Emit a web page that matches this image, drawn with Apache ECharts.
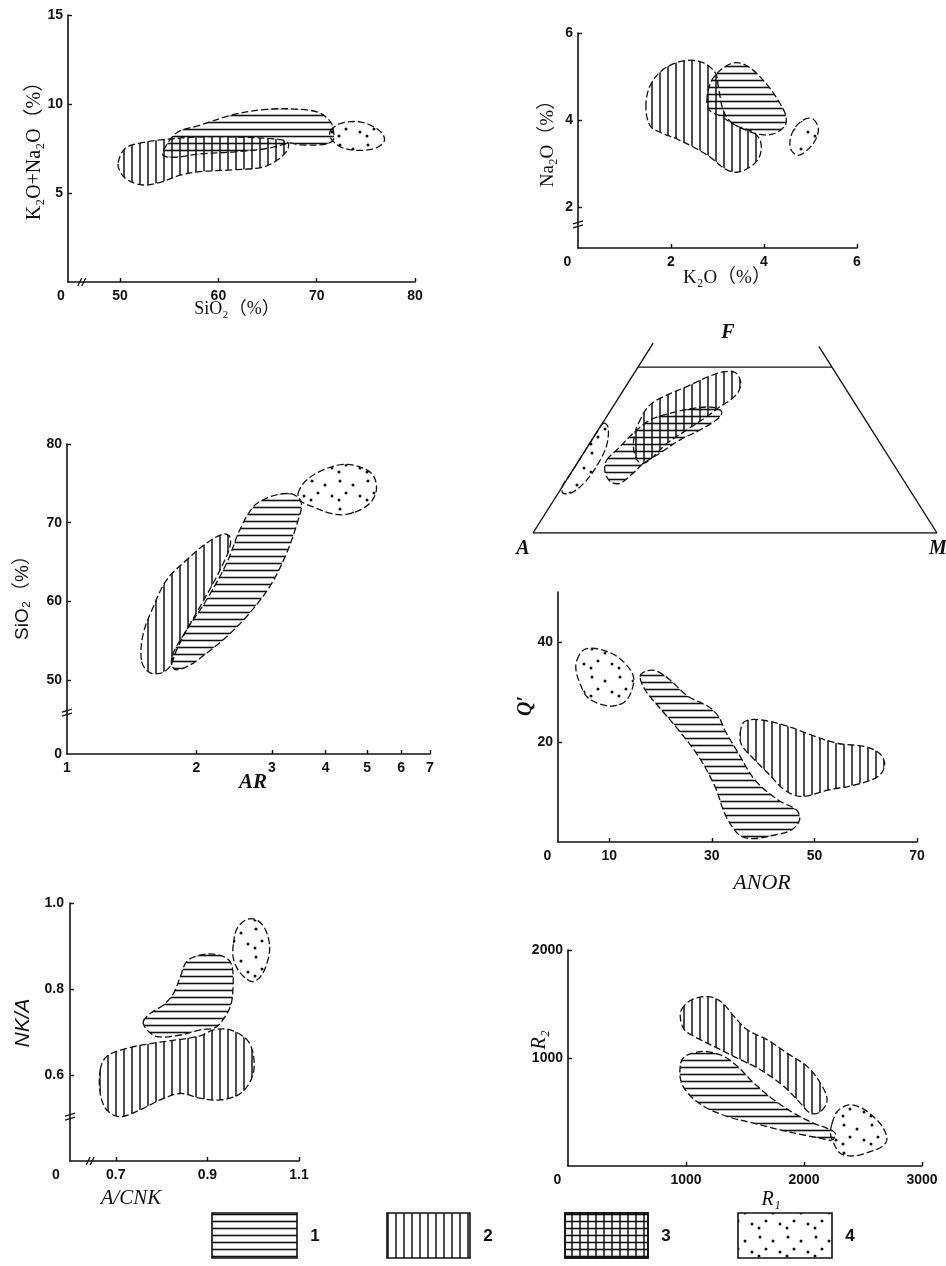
<!DOCTYPE html>
<html><head><meta charset="utf-8">
<script src="https://cdn.jsdelivr.net/npm/echarts@6/dist/echarts.min.js"></script>
<style>html,body{margin:0;padding:0;background:#fff}#c{width:946px;height:1266px}</style>
</head><body><div id="c"></div>
<script>
// ---------------- DATA ----------------
// Panel 1: SiO2 (%) vs K2O+Na2O (%)
const p1Field1 = [[54.4,7.4],[55.8,8.4],[58.1,8.8],[61.5,9.4],[64.9,9.7],[68.3,9.7],[70.3,9.5],[71.4,9.0],[71.7,8.5],[71.7,8.0],[71.0,7.75],[68.3,7.7],[67.3,7.8],[64.9,7.5],[61.5,7.3],[58.1,7.2],[55.4,7.0],[54.4,7.1]];
const p1Field2 = [[49.8,6.7],[50.5,7.5],[52.0,7.8],[54.4,8.0],[58.1,8.15],[61.5,8.15],[66.3,8.0],[67.1,7.8],[67.0,7.4],[66.0,6.85],[64.5,6.45],[61.5,6.3],[58.1,6.2],[56.1,6.0],[54.1,5.6],[52.3,5.45],[50.7,5.75],[50.0,6.2]];
const p1Field4 = [[71.4,8.5],[72.4,8.9],[74.4,9.0],[76.4,8.5],[76.9,7.95],[75.9,7.5],[73.9,7.4],[72.4,7.6],[71.4,8.1]];
const p1XTicks = [50,60,70,80];
const p1YTicks = [5,10,15];

// Panel 2: K2O (%) vs Na2O (%)
const p2Field1 = [[2.77,4.44],[2.87,4.90],[3.13,5.20],[3.41,5.32],[3.70,5.20],[4.06,4.82],[4.31,4.44],[4.47,4.10],[4.45,3.87],[4.20,3.68],[3.91,3.67],[3.63,3.76],[3.34,3.91],[3.05,4.10],[2.84,4.21]];
const p2Field2 = [[1.46,4.29],[1.55,4.79],[1.84,5.17],[2.27,5.36],[2.66,5.33],[2.95,5.09],[3.02,4.75],[3.13,4.21],[3.34,3.91],[3.77,3.72],[3.93,3.49],[3.90,3.15],[3.70,2.92],[3.41,2.80],[3.16,2.88],[2.84,3.15],[2.48,3.38],[2.12,3.57],[1.76,3.72],[1.55,3.87]];
const p2Field4 = [[5.06,4.02],[5.17,3.80],[5.10,3.53],[4.92,3.30],[4.74,3.19],[4.59,3.30],[4.56,3.53],[4.67,3.83],[4.88,4.02]];
const p2XTicks = [2,4,6];
const p2YTicks = [2,4,6];

// Panel 3: AR (log) vs SiO2 (%)
const p3Field1 = [[1.752,51.9],[1.767,53.4],[1.898,56.35],[2.113,60.2],[2.351,64.8],[2.526,69.1],[2.713,72.0],[2.913,73.1],[3.185,73.7],[3.39,73.5],[3.513,72.45],[3.451,70.3],[3.243,66.1],[2.966,61.9],[2.617,58.05],[2.351,55.5],[2.113,53.4],[1.932,51.9],[1.799,51.3]];
const p3Field2 = [[1.49,52.55],[1.505,55.9],[1.588,59.3],[1.705,62.7],[1.898,65.25],[2.113,67.4],[2.31,68.55],[2.394,68.2],[2.394,66.9],[2.31,64.8],[2.189,62.3],[2.039,59.3],[1.898,56.35],[1.799,53.8],[1.736,51.7],[1.645,50.85],[1.546,51.05]];
const p3Field4 = [[3.451,73.7],[3.609,75.4],[3.946,76.7],[4.392,77.4],[4.802,77.1],[5.158,76.05],[5.251,74.15],[5.067,72.45],[4.717,71.4],[4.392,71.0],[4.09,71.2],[3.74,72.0],[3.513,72.7]];
const p3XTicks = [1,2,3,4,5,6,7];
const p3YTicks = [50,60,70,80];

// Panel 4: AFM ternary, points as [A, F, M] (%)
const p4Field1 = [[70.3,22.9,6.8],[66.3,26.0,7.7],[59.5,31.3,9.2],[53.3,35.4,11.3],[47.4,37.5,15.1],[40.7,39.1,20.2],[35.7,39.4,24.9],[34.3,38.0,27.7],[36.1,36.0,27.9],[42.5,32.3,25.2],[49.0,29.2,21.8],[56.1,25.0,18.9],[61.8,21.8,16.4],[65.9,18.7,15.4],[70.7,15.6,13.7],[72.8,16.1,11.1],[72.6,19.2,8.2]];
const p4Field2 = [[56.7,34.4,8.9],[51.7,39.6,8.7],[47.5,42.2,10.3],[39.0,45.9,15.1],[31.6,49.2,19.2],[27.2,50.6,22.2],[24.8,50.3,24.9],[24.9,47.4,27.7],[27.0,44.3,28.7],[30.3,41.7,28.0],[33.9,39.6,26.5],[38.7,36.5,24.8],[45.8,32.3,21.9],[52.8,28.1,19.1],[58.3,23.9,17.8],[61.8,21.8,16.4],[62.8,22.9,14.3],[61.6,27.1,11.3],[59.1,31.3,9.6]];
const p4Field4 = [[65.4,34.4,0.2],[64.8,33.3,1.9],[67.6,28.1,4.3],[71.9,22.9,5.2],[78.4,16.6,5.0],[83.6,12.9,3.5],[86.3,12.4,1.3],[85.5,14.5,0],[81.3,18.7,0],[75.0,25.0,0],[68.7,31.3,0]];
const p4FrameBase = [[100,0,0],[0,0,100]];
const p4FrameLeft = [[100,0,0],[40.5,59.5,0]];
const p4FrameRight = [[0,0,100],[0,58.5,41.5]];
const p4FrameTop = [[48,52,0],[0,52,48]];

// Panel 5: ANOR vs Q'
const p5Field1 = [[16.0,33.1],[17.0,34.1],[18.9,34.3],[21.5,32.7],[25.4,29.1],[29.3,27.1],[31.3,25.1],[32.5,22.4],[35.2,17.7],[38.4,12.4],[42.9,8.4],[46.5,6.4],[47.1,4.4],[45.5,2.4],[42.3,1.4],[38.4,0.7],[35.8,1.1],[34.2,2.7],[32.5,5.7],[30.6,11.1],[27.4,17.1],[23.5,22.4],[19.6,27.1],[17.0,30.4]];
const p5Field2 = [[35.5,21.7],[36.4,24.1],[39.7,24.4],[44.9,23.1],[49.4,21.4],[54.6,19.7],[59.8,19.1],[62.7,17.7],[63.7,15.4],[62.4,13.1],[57.8,11.4],[52.7,10.4],[47.5,9.1],[44.2,10.4],[41.0,13.7],[37.7,17.1],[35.8,19.4]];
const p5Field4 = [[3.7,36.4],[5.0,38.4],[7.3,38.7],[10.5,37.7],[13.1,35.7],[14.7,33.1],[14.4,30.4],[13.1,28.1],[10.8,27.2],[7.9,27.7],[5.6,29.1],[4.3,31.7],[3.5,34.4]];
const p5XTicks = [10,30,50,70];
const p5YTicks = [20,40];

// Panel 6: A/CNK vs NK/A
const p6Field1 = [[0.760,0.724],[0.775,0.743],[0.804,0.763],[0.826,0.790],[0.841,0.829],[0.855,0.864],[0.884,0.879],[0.914,0.881],[0.943,0.871],[0.954,0.852],[0.956,0.805],[0.950,0.759],[0.928,0.720],[0.914,0.709],[0.884,0.705],[0.841,0.693],[0.790,0.689],[0.768,0.705]];
const p6Field2 = [[0.666,0.612],[0.680,0.643],[0.724,0.662],[0.782,0.674],[0.841,0.683],[0.884,0.691],[0.914,0.705],[0.950,0.705],[0.987,0.681],[1.001,0.643],[0.998,0.596],[0.972,0.557],[0.928,0.542],[0.884,0.546],[0.841,0.557],[0.797,0.542],[0.753,0.519],[0.709,0.503],[0.680,0.519],[0.666,0.557]];
const p6Field4 = [[0.957,0.906],[0.965,0.941],[0.987,0.962],[1.009,0.960],[1.027,0.937],[1.036,0.898],[1.030,0.860],[1.016,0.829],[0.998,0.817],[0.979,0.829],[0.965,0.848],[0.956,0.875]];
const p6XTicks = [0.7,0.9,1.1];
const p6YTicks = [0.6,0.8,1.0];

// Panel 7: R1 vs R2
const p7Field1 = [[955,951],[988,1012],[1073,1049],[1185,1059],[1325,1012],[1438,920],[1578,765],[1746,611],[1915,488],[2083,395],[2196,349],[2266,302],[2238,241],[2140,256],[1999,287],[1803,333],[1578,395],[1354,457],[1157,549],[1017,673],[955,796]];
const p7Field2 = [[960,1444],[1045,1537],[1185,1568],[1297,1521],[1409,1383],[1522,1259],[1691,1167],[1859,1043],[2028,920],[2140,765],[2196,611],[2140,503],[2056,488],[1971,580],[1831,735],[1634,889],[1409,1012],[1241,1105],[1073,1197],[988,1259],[955,1352]];
const p7Field4 = [[2238,395],[2281,503],[2378,565],[2477,543],[2589,457],[2673,349],[2702,241],[2660,179],[2561,133],[2420,93],[2308,117],[2252,210],[2224,302]];
const p7XTicks = [1000,2000,3000];
const p7YTicks = [1000,2000];

const legendLabels = ['1','2','3','4'];

// ---------------- PATTERNS ----------------
function mkCanvas(w, h, draw) { const c = document.createElement('canvas'); c.width = w; c.height = h; const ctx = c.getContext('2d'); draw(ctx); return c; }
const HATCH_H = { image: mkCanvas(12, 7, ctx => { ctx.strokeStyle = '#111'; ctx.lineWidth = 1.6; ctx.beginPath(); ctx.moveTo(0, 3.5); ctx.lineTo(12, 3.5); ctx.stroke(); }), repeat: 'repeat' };
const HATCH_V = { image: mkCanvas(8, 12, ctx => { ctx.strokeStyle = '#111'; ctx.lineWidth = 1.5; ctx.beginPath(); ctx.moveTo(4, 0); ctx.lineTo(4, 12); ctx.stroke(); }), repeat: 'repeat' };
const DOTS = { image: mkCanvas(28, 28, ctx => { ctx.fillStyle = '#111'; [[4,5],[17,9],[10,17],[24,20],[3,24]].forEach(([x,y]) => { ctx.beginPath(); ctx.arc(x, y, 1.5, 0, Math.PI*2); ctx.fill(); }); }), repeat: 'repeat' };

// ---------------- HELPERS ----------------
const TICKFONT = "'Liberation Sans Narrow','Liberation Sans',Arial,sans-serif";
const SERIF = "'Liberation Serif','DejaVu Serif','Noto Sans CJK SC',serif";
const tern2xy = p => { const s = p[0] + p[1] + p[2]; const F = p[1] / s * 100, M = p[2] / s * 100; return [M + F / 2, F]; };

function field(g, pts, pattern, conv) {
  return {
    type: 'custom', xAxisIndex: g, yAxisIndex: g, data: pts, silent: true, animation: false, clip: false,
    renderItem: (params, api) => {
      if (params.dataIndex !== 0) return null;
      const points = pts.map(p => api.coord(conv ? conv(p) : p));
      return { type: 'polygon', shape: { points: points, smooth: 0.35 },
        style: { fill: pattern, stroke: '#111', lineWidth: 1.3, lineDash: [7, 3] } };
    }
  };
}
function frameLine(g, seg) {
  return { type: 'line', xAxisIndex: g, yAxisIndex: g, data: seg.map(tern2xy), symbol: 'none', silent: true, animation: false,
    lineStyle: { color: '#111', width: 1.4 } };
}
function ax(o) {
  const a = {
    type: o.type || 'value', min: o.min, max: o.max, gridIndex: o.g, show: o.show !== false,
    axisLine: { show: true, onZero: false, lineStyle: { color: '#111', width: 1.6 } },
    axisTick: { show: true, inside: true, length: 4, lineStyle: { color: '#111', width: 1.4 }, customValues: o.ticks },
    axisLabel: { show: true, color: '#111', fontSize: 14, fontWeight: 'bold', fontFamily: TICKFONT, margin: o.margin || 7,
      customValues: o.labels, formatter: o.fmt || (v => String(v)) },
    splitLine: { show: false }
  };
  if (o.type === 'log') a.logBase = 10;
  return a;
}

const grids = [
  { left: 68, top: 15, width: 347, height: 267 },
  { left: 578, top: 33, width: 279, height: 215 },
  { left: 67, top: 444, width: 363, height: 310 },
  { left: 533, top: 214, width: 404, height: 319 },
  { left: 558, top: 592, width: 359, height: 250 },
  { left: 70, top: 903, width: 229, height: 258 },
  { left: 568, top: 950, width: 354, height: 216 }
].map(g => Object.assign({ outerBoundsMode: 'none', containLabel: false, show: false }, g));

const xAxes = [
  ax({ g: 0, min: 44.7, max: 80, ticks: p1XTicks, labels: [44.7].concat(p1XTicks), fmt: v => v < 45 ? '0\u2003' : String(v) }),
  ax({ g: 1, min: 0, max: 6, ticks: p2XTicks, labels: [0].concat(p2XTicks), fmt: v => v === 0 ? '0\u2003\u2002' : String(v) }),
  ax({ g: 2, type: 'log', min: 1, max: 7, ticks: p3XTicks.slice(1), labels: p3XTicks }),
  ax({ g: 3, min: 0, max: 100, show: false }),
  ax({ g: 4, min: 0, max: 70, ticks: p5XTicks, labels: [0].concat(p5XTicks), fmt: v => v === 0 ? '0\u2003\u2002' : String(v) }),
  ax({ g: 5, min: 0.6, max: 1.1, ticks: p6XTicks, labels: [0.6].concat(p6XTicks), fmt: v => v < 0.65 ? '0\u2003\u2003' : v.toFixed(1) }),
  ax({ g: 6, min: 0, max: 3000, ticks: p7XTicks, labels: [0].concat(p7XTicks), fmt: v => v === 0 ? '0\u2003\u2002' : String(v) })
];
const yAxes = [
  ax({ g: 0, min: 0, max: 15, ticks: p1YTicks, labels: p1YTicks, margin: 5 }),
  ax({ g: 1, min: 1.06, max: 6, ticks: p2YTicks, labels: p2YTicks, margin: 5 }),
  ax({ g: 2, min: 40.6, max: 80, ticks: p3YTicks, labels: [40.6].concat(p3YTicks), fmt: v => v < 45 ? '0' : String(v), margin: 5 }),
  ax({ g: 3, min: 0, max: 100, show: false }),
  ax({ g: 4, min: 0, max: 50, ticks: p5YTicks, labels: p5YTicks, margin: 5 }),
  ax({ g: 5, min: 0.4, max: 1.0, ticks: p6YTicks, labels: p6YTicks, fmt: v => v.toFixed(1), margin: 6 }),
  ax({ g: 6, min: 0, max: 2000, ticks: p7YTicks, labels: p7YTicks, margin: 5 })
];

const series = [
  field(0, p1Field2, HATCH_V), field(0, p1Field1, HATCH_H), field(0, p1Field4, DOTS),
  field(1, p2Field2, HATCH_V), field(1, p2Field1, HATCH_H), field(1, p2Field4, DOTS),
  field(2, p3Field2, HATCH_V), field(2, p3Field1, HATCH_H), field(2, p3Field4, DOTS),
  frameLine(3, p4FrameBase), frameLine(3, p4FrameLeft), frameLine(3, p4FrameRight), frameLine(3, p4FrameTop),
  field(3, p4Field2, HATCH_V, tern2xy), field(3, p4Field1, HATCH_H, tern2xy), field(3, p4Field4, DOTS, tern2xy),
  field(4, p5Field2, HATCH_V), field(4, p5Field1, HATCH_H), field(4, p5Field4, DOTS),
  field(5, p6Field2, HATCH_V), field(5, p6Field1, HATCH_H), field(5, p6Field4, DOTS),
  field(6, p7Field2, HATCH_V), field(6, p7Field1, HATCH_H), field(6, p7Field4, DOTS)
];

const chart = echarts.init(document.getElementById('c'), null, { renderer: 'canvas' });
chart.setOption({ animation: false, backgroundColor: '#fff', grid: grids, xAxis: xAxes, yAxis: yAxes, series: series });

// ---------------- TEXT & DECORATION ----------------
function txt(x, y, text, font, rot) {
  return { type: 'text', x: x, y: y, rotation: rot ? Math.PI / 2 : 0, silent: true,
    style: { text: text, font: font, fill: '#111', align: 'center', verticalAlign: 'middle' } };
}
const g = [];
const TF = "19px " + SERIF;
const TFI = "italic bold 20px " + SERIF;
g.push(txt(35, 146, 'K\u2082O+Na\u2082O\uff08%\uff09', "20px " + SERIF, true));
g.push(txt(237, 309, 'SiO\u2082\uff08%\uff09', "18px " + SERIF));
g.push(txt(548, 139, 'Na\u2082O\uff08%\uff09', TF, true));
g.push(txt(727, 278, 'K\u2082O\uff08%\uff09', TF));
g.push(txt(23, 593, 'SiO\u2082\uff08%\uff09', "19px 'Liberation Sans',Arial,'Noto Sans CJK SC',sans-serif", true));
g.push(txt(253, 783, 'AR', "italic bold 21px " + SERIF));
g.push(txt(728, 333, 'F', TFI));
g.push(txt(523, 549, 'A', TFI));
g.push(txt(938, 549, 'M', TFI));
g.push(txt(526, 706, 'Q\u2032', TFI, true));
g.push(txt(762, 883, 'ANOR', "italic 22px " + SERIF));
g.push(txt(23, 1023, 'NK/A', "italic 21px 'Liberation Sans',Arial,sans-serif", true));
g.push(txt(131, 1198, 'A/CNK', "italic 21px " + SERIF));
g.push(txt(540, 1040, 'R\u2082', "italic 20px " + SERIF, true));
g.push(txt(771, 1200, 'R\u2081', "italic 20px " + SERIF));

// axis break marks, placed through the axes' own scales
function brk(pt, horizontalAxis) {
  const [x, y] = pt;
  const lines = horizontalAxis
    ? [[x - 4, y + 4, x, y - 4], [x, y + 4, x + 4, y - 4]]
    : [[x - 5, y - 1, x + 5, y - 4], [x - 5, y + 3, x + 5, y]];
  return lines.map(l => ({ type: 'line', silent: true, shape: { x1: l[0], y1: l[1], x2: l[2], y2: l[3] }, style: { stroke: '#111', lineWidth: 1.3 } }));
}
g.push(...brk(chart.convertToPixel({ gridIndex: 0 }, [46.1, 0]), true));
g.push(...brk(chart.convertToPixel({ gridIndex: 1 }, [0, 1.59]), false));
g.push(...brk(chart.convertToPixel({ gridIndex: 2 }, [1, 45.8]), false));
g.push(...brk(chart.convertToPixel({ gridIndex: 5 }, [0.644, 0.4]), true));
g.push(...brk(chart.convertToPixel({ gridIndex: 5 }, [0.6, 0.502]), false));

// legend boxes
const legendBoxes = [
  { x: 212, w: 85, fills: [HATCH_H] },
  { x: 387, w: 83, fills: [HATCH_V] },
  { x: 565, w: 83, fills: [HATCH_H, HATCH_V] },
  { x: 738, w: 94, fills: [DOTS] }
];
legendBoxes.forEach((b, i) => {
  b.fills.forEach(f => g.push({ type: 'rect', silent: true, shape: { x: b.x, y: 1213, width: b.w, height: 45 }, style: { fill: f, stroke: '#111', lineWidth: 1.6 } }));
  g.push(txt(b.x + b.w + 18, 1236, legendLabels[i], "bold 17px " + TICKFONT));
});
chart.setOption({ graphic: g });
</script>
</body></html>
